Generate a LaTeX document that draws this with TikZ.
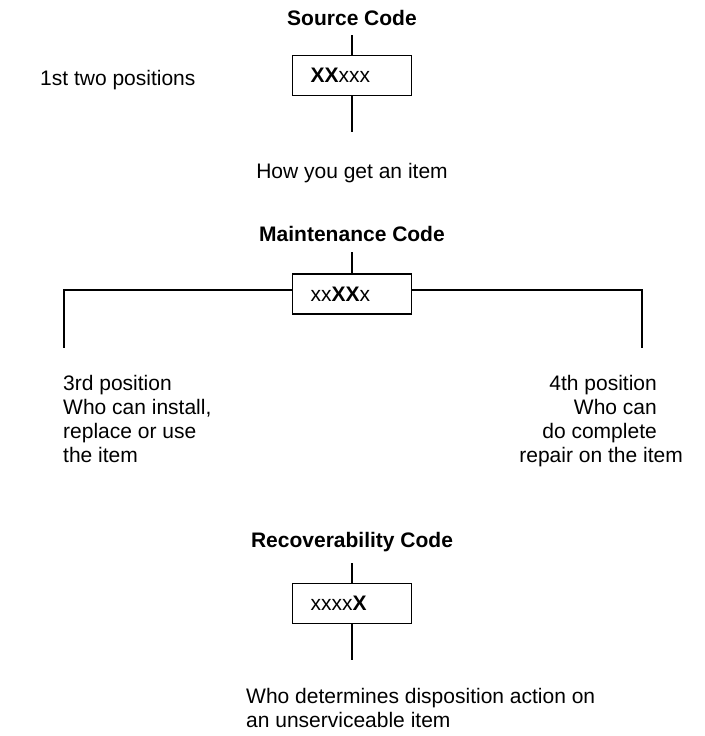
\documentclass[tikz,border=0pt]{standalone}
\usepackage{fontspec}
\setmainfont{Liberation Sans}
\begin{document}
\begin{tikzpicture}[x=1pt,y=-1pt,
  every node/.style={font=\fontsize{21}{24}\selectfont, inner sep=0pt},
  title/.style={font=\fontsize{21}{24}\selectfont\bfseries},
  codebox/.style={draw, line width=1.6pt, minimum height=40pt, text width=83pt, inner xsep=18pt, align=left},
  conn/.style={line width=1.6pt}]
\useasboundingbox (0,0) rectangle (704,736);
% Source code
\node[title] (srcT) at (352,18) {Source Code};
\coordinate (srcTop) at (352,35);
\node[codebox] (srcB) at (352,75.5) {\textbf{XX}xxx};
\coordinate (srcBot) at (352,132);
\draw[conn] (srcTop) -- (srcB.north);
\draw[conn] (srcB.south) -- (srcBot);
\node (srcD) at (352,173) {How you get an item};
\node[anchor=west] (srcP) at (40,80) {1st two positions};
% Maintenance code
\node[title] (mntT) at (352,234) {Maintenance Code};
\coordinate (mntTop) at (352,252);
\node[codebox] (mntB) at (352,294) {xx\textbf{XX}x};
\coordinate (mntLh) at (64,290);
\coordinate (mntRh) at (642,290);
\coordinate (mntL) at (64,348);
\coordinate (mntR) at (642,348);
\draw[conn] (mntTop) -- (mntB.north);
\draw[conn] (mntB.west |- mntLh) -- (mntLh) -- (mntL);
\draw[conn] (mntB.east |- mntRh) -- (mntRh) -- (mntR);
\node[anchor=north west, align=left] (mntLT) at (63,375) {3rd position\\Who can install,\\replace or use\\the item};
\node[anchor=north east, align=right] (mntRT) at (657,375) {4th position\\Who can\\do complete};
\node[anchor=base east] (mntRT4) at (683,462) {repair on the item};
% Recoverability code
\node[title] (recT) at (352,542) {Recoverability Code};
\coordinate (recTop) at (352,563);
\node[codebox] (recB) at (352,603.5) {xxxx\textbf{X}};
\coordinate (recBot) at (352,660);
\draw[conn] (recTop) -- (recB.north);
\draw[conn] (recB.south) -- (recBot);
\node[anchor=north west, align=left] (recD) at (246,688) {Who determines disposition action on\\an unserviceable item};
\end{tikzpicture}
\end{document}
